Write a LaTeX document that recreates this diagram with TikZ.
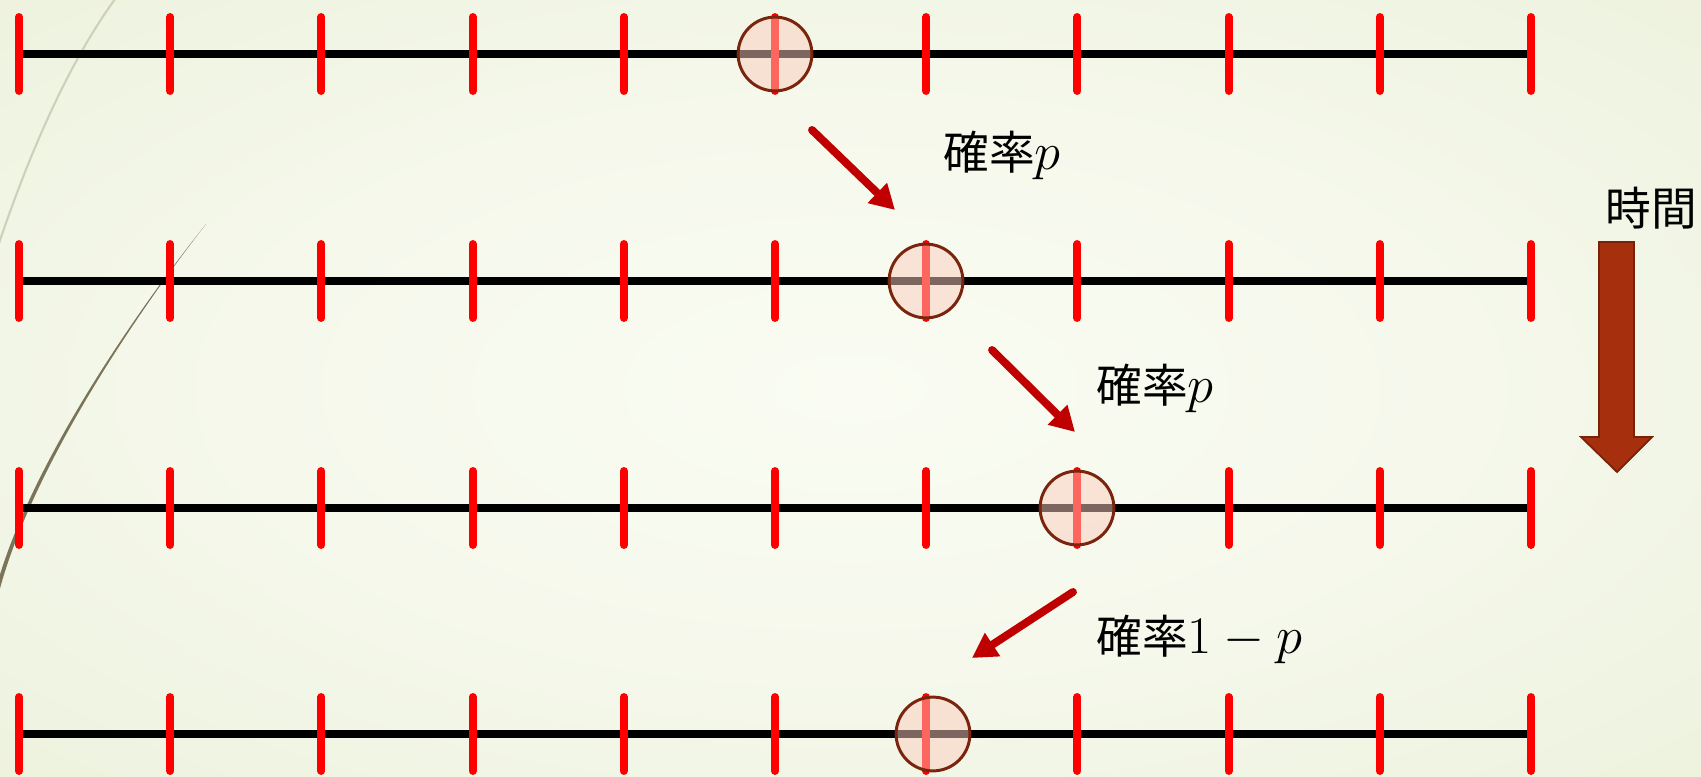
\RequirePackage{fix-cm}
\documentclass[tikz,border=0pt]{standalone}
\usepackage{fontspec}
\newfontfamily\jpfont{Noto Sans CJK JP}
\usetikzlibrary{arrows.meta, positioning}
\definecolor{bgin}{RGB}{250,252,243}
\definecolor{bgmid}{RGB}{231,237,212}
\definecolor{bgout}{RGB}{219,227,190}
\definecolor{ballfill}{RGB}{250,205,190}
\definecolor{balledge}{RGB}{122,36,14}
\definecolor{movered}{RGB}{192,0,0}
\definecolor{timefill}{RGB}{166,47,14}
\definecolor{timeedge}{RGB}{120,34,10}
\definecolor{wisp}{RGB}{122,116,88}
\definecolor{wisplight}{RGB}{206,208,186}
\pgfdeclareradialshading{glow}{\pgfpointorigin}{color(0bp)=(bgin); color(20bp)=(bgin!70!bgmid); color(50bp)=(bgmid); color(71bp)=(bgout)}
\newcommand{\mth}[1]{{\fontsize{30}{34}\selectfont$#1$}}
\tikzset{
  axis/.style={line width=4pt, black},
  tickmark/.style={line width=4.5pt, red, line cap=round},
  ball/.style={circle, draw=balledge, line width=1.7pt, fill=ballfill, fill opacity=0.5, minimum size=42pt, inner sep=0pt},
  move/.style={-{Triangle[length=14pt,width=15pt]}, line width=4.5pt, movered, line cap=round},
  prob/.style={font=\fontsize{26}{30}\selectfont, inner sep=0pt, anchor=base west}
}

\begin{document}
\begin{tikzpicture}[x=0.02cm, y=-0.02cm]
\useasboundingbox (0,0) rectangle (1701,777);

% background
\shade[shading=glow] (0,0) rectangle (1701,777);
\draw[wisplight, line width=1.2pt] (118,-5) .. controls (70,60) and (30,150) .. (-5,255);
\fill[wisp] (206,224) .. controls (136,314) and (27,475) .. (-3,600) -- (-7,600) .. controls (23,474) and (135,313) .. (206,224) -- cycle;

% lattice at each time step
\foreach \r/\y in {0/54, 1/281, 2/508, 3/734} {
  \coordinate (L\r) at (19,\y);
  \coordinate (R\r) at (1531,\y);
  \draw[axis] (L\r) -- (R\r);
  \foreach \i in {0,...,10}
    \draw[tickmark] (19+151.2*\i,\y-37) -- ++(0,74);
}

% walker
\node[ball] (B0) at (775,54) {};
\node[ball] (B1) at (926,281) {};
\node[ball] (B2) at (1077,508) {};
\node[ball] (B3) at (933,734) {};

% steps
\coordinate (M1a) at (812,130);  \coordinate (M1b) at (895,210);
\coordinate (M2a) at (992,350);  \coordinate (M2b) at (1075,432);
\coordinate (M3a) at (1073,592); \coordinate (M3b) at (972,658);
\draw[move] (M1a) -- (M1b);
\draw[move] (M2a) -- (M2b);
\draw[move] (M3a) -- (M3b);

\node[prob] (P1) at (943,170) {{\jpfont 確率}\mth{p}};
\node[prob] (P2) at (1096,402) {{\jpfont 確率}\mth{p}};
\node[prob] (P3) at (1096,653) {{\jpfont 確率}\mth{1-p}};

% time axis
\node[prob] (T) at (1605,225) {\jpfont 時間};
\draw[timeedge, fill=timefill, line width=1pt] (1599,242) -- (1634,242) -- (1634,437) -- (1652,437) -- (1617,472) -- (1581,437) -- (1599,437) -- cycle;

\end{tikzpicture}
\end{document}
